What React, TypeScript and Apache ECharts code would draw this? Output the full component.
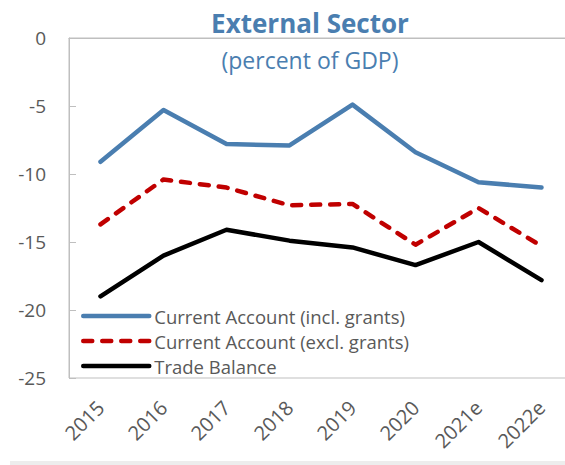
import React, { useEffect, useRef } from "react";
import * as echarts from "echarts";

const categories = ["2015", "2016", "2017", "2018", "2019", "2020", "2021e", "2022e"];
const currentInclGrants = [-9.1, -5.3, -7.8, -7.9, -4.9, -8.4, -10.6, -11.0];
const currentExclGrants = [-13.7, -10.4, -11.0, -12.3, -12.2, -15.2, -12.5, -15.3];
const tradeBalance = [-19.0, -16.0, -14.1, -14.9, -15.4, -16.7, -15.0, -17.8];
const seriesNames = [
  "Current Account (incl. grants)",
  "Current Account (excl. grants)",
  "Trade Balance",
];

const FONT = "'Open Sans', sans-serif";
const BLUE = "#4a7eb0";
const RED = "#c00000";
const GRAY_TEXT = "#595959";

export default function App() {
  const ref = useRef<HTMLDivElement>(null);

  useEffect(() => {
    if (!ref.current) return;
    const chart = echarts.init(ref.current, undefined, { renderer: "svg" });
    chart.setOption({
      animation: false,
      backgroundColor: "#ffffff",
      textStyle: { fontFamily: FONT },
      grid: {
        left: 69,
        top: 38,
        width: 504,
        height: 340,
        show: true,
        borderColor: "#bfbfbf",
        borderWidth: 1,
        outerBoundsMode: "none",
      },
      graphic: [
        {
          type: "text",
          x: 310,
          y: 23,
          style: {
            text: "External Sector",
            fontFamily: FONT,
            fontWeight: "bold",
            fontSize: 26,
            fill: BLUE,
            textAlign: "center",
            textVerticalAlign: "middle",
          },
        },
        {
          type: "text",
          x: 310,
          y: 60,
          style: {
            text: "(percent of GDP)",
            fontFamily: FONT,
            fontSize: 23,
            fill: BLUE,
            textAlign: "center",
            textVerticalAlign: "middle",
          },
        },
        {
          type: "rect",
          shape: { x: 10, y: 461, width: 560, height: 6 },
          style: { fill: "#ededed" },
        },
      ],
      legend: {
        orient: "vertical",
        left: 81,
        top: 306,
        padding: 0,
        itemWidth: 66,
        itemHeight: 14,
        itemGap: 5,
        data: seriesNames,
        itemStyle: { opacity: 0 },
        lineStyle: { width: 4.5, cap: "round" },
        textStyle: {
          fontFamily: FONT,
          fontSize: 18.5,
          color: GRAY_TEXT,
          lineHeight: 20,
        },
      },
      xAxis: {
        type: "category",
        data: categories,
        boundaryGap: true,
        axisLine: { show: true, lineStyle: { color: "#bfbfbf", width: 1 } },
        axisTick: { show: false },
        axisLabel: {
          interval: 0,
          rotate: 45,
          margin: 26,
          padding: [6, 0, 0, 0],
          fontFamily: FONT,
          fontSize: 20,
          color: GRAY_TEXT,
        },
        splitLine: { show: false },
      },
      yAxis: {
        type: "value",
        min: -25,
        max: 0,
        interval: 5,
        axisLine: { show: true, lineStyle: { color: "#bfbfbf", width: 1 } },
        axisTick: { show: true, inside: true, length: 7, lineStyle: { color: "#bfbfbf" } },
        axisLabel: {
          margin: 23,
          fontFamily: FONT,
          fontSize: 19,
          color: GRAY_TEXT,
        },
        splitLine: { show: false },
      },
      series: [
        {
          name: seriesNames[0],
          type: "line",
          data: currentInclGrants,
          symbol: "none",
          lineStyle: { color: BLUE, width: 4.5, cap: "round", join: "round" },
          itemStyle: { color: BLUE },
        },
        {
          name: seriesNames[1],
          type: "line",
          data: currentExclGrants,
          symbol: "none",
          lineStyle: { color: RED, width: 4.5, type: [9, 10], cap: "round", join: "round" },
          itemStyle: { color: RED },
        },
        {
          name: seriesNames[2],
          type: "line",
          data: tradeBalance,
          symbol: "none",
          lineStyle: { color: "#000000", width: 4.5, cap: "round", join: "round" },
          itemStyle: { color: "#000000" },
        },
      ],
    });
    return () => chart.dispose();
  }, []);

  return (
    <div
      ref={ref}
      style={{ position: "fixed", left: 0, top: 0, width: 565, height: 465 }}
    />
  );
}
